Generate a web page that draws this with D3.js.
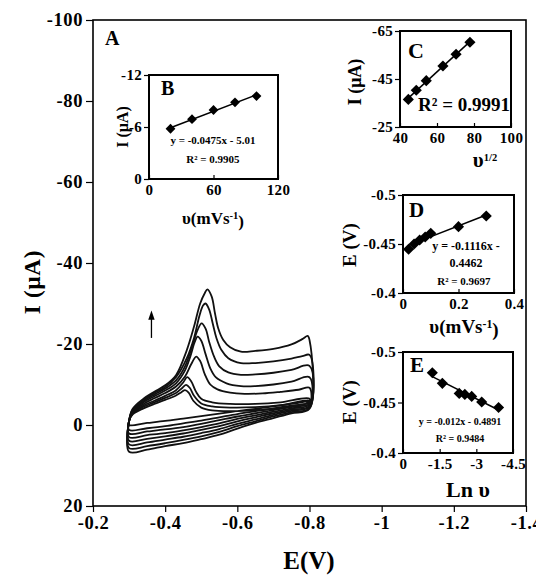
<!DOCTYPE html>
<html lang="en">
<head>
<meta charset="UTF-8">
<title>CV at different scan rates</title>
<script src="https://cdn.jsdelivr.net/npm/d3@7"></script>
<style>
  body { margin: 0; background: #fff; }
  svg text { font-family: "Liberation Serif", "Times New Roman", serif; font-weight: bold; fill: #000; }
  .tick17 text { font-size: 18.5px; letter-spacing: 0.6px; }
  .tick13 text { font-size: 15px; letter-spacing: 0.3px; }
  .tick line { stroke: #000; stroke-width: 1.2; }
</style>
</head>
<body>
<script>
// ---------- data ----------
// main panel A: cyclic voltammograms, forward (cathodic) scans as [E (V), I (uA)]
const forwardScans = [
  [[-0.30,-1.0],[-0.31,-4.0],[-0.34,-6.5],[-0.37,-8.2],[-0.40,-9.8],[-0.43,-12.3],[-0.46,-18.5],[-0.48,-24.3],[-0.497,-30.0],[-0.51,-32.6],[-0.517,-33.5],[-0.529,-31.7],[-0.538,-27.6],[-0.547,-23.9],[-0.561,-21.0],[-0.58,-19.2],[-0.61,-18.1],[-0.65,-18.3],[-0.70,-18.8],[-0.75,-19.9],[-0.78,-21.2],[-0.795,-22.0],[-0.80,-21.0]],
  [[-0.30,-1.0],[-0.31,-3.8],[-0.34,-6.2],[-0.37,-7.9],[-0.40,-9.4],[-0.43,-11.8],[-0.46,-16.5],[-0.48,-21.5],[-0.495,-27.0],[-0.505,-29.5],[-0.512,-30.0],[-0.522,-28.5],[-0.532,-25.0],[-0.542,-21.5],[-0.556,-18.5],[-0.575,-16.5],[-0.61,-15.3],[-0.65,-15.3],[-0.70,-15.7],[-0.75,-16.4],[-0.78,-17.0],[-0.80,-17.3]],
  [[-0.30,-1.0],[-0.31,-3.6],[-0.34,-5.9],[-0.37,-7.5],[-0.40,-9.0],[-0.43,-11.0],[-0.455,-14.5],[-0.475,-19.5],[-0.49,-23.5],[-0.501,-25.1],[-0.512,-23.8],[-0.522,-20.5],[-0.535,-17.0],[-0.55,-14.5],[-0.575,-13.0],[-0.61,-12.4],[-0.65,-12.5],[-0.70,-12.9],[-0.75,-13.6],[-0.80,-14.6]],
  [[-0.30,-1.0],[-0.31,-3.4],[-0.34,-5.6],[-0.37,-7.1],[-0.40,-8.5],[-0.43,-10.3],[-0.455,-13.5],[-0.47,-17.0],[-0.482,-20.5],[-0.49,-21.8],[-0.50,-20.8],[-0.512,-17.5],[-0.525,-14.0],[-0.54,-11.8],[-0.57,-10.3],[-0.61,-9.6],[-0.65,-9.6],[-0.70,-10.0],[-0.75,-10.7],[-0.80,-11.8]],
  [[-0.30,-1.0],[-0.31,-3.2],[-0.34,-5.2],[-0.37,-6.6],[-0.40,-7.9],[-0.43,-9.5],[-0.455,-12.0],[-0.472,-15.0],[-0.486,-16.9],[-0.497,-15.8],[-0.51,-12.5],[-0.525,-10.0],[-0.545,-8.8],[-0.58,-8.0],[-0.62,-7.7],[-0.67,-7.8],[-0.72,-8.2],[-0.77,-8.7],[-0.80,-9.2]],
  [[-0.30,-1.0],[-0.31,-3.0],[-0.34,-4.8],[-0.37,-6.0],[-0.40,-7.2],[-0.43,-8.6],[-0.45,-10.5],[-0.461,-11.8],[-0.472,-10.8],[-0.485,-8.3],[-0.50,-6.5],[-0.53,-5.6],[-0.58,-5.2],[-0.65,-5.2],[-0.72,-5.6],[-0.80,-6.5]],
  [[-0.30,-1.0],[-0.31,-2.8],[-0.34,-4.5],[-0.37,-5.6],[-0.40,-6.7],[-0.43,-7.9],[-0.448,-9.2],[-0.458,-9.9],[-0.468,-9.2],[-0.48,-7.2],[-0.50,-5.3],[-0.53,-4.6],[-0.58,-4.3],[-0.65,-4.4],[-0.72,-4.9],[-0.80,-6.0]],
  [[-0.30,-1.0],[-0.31,-2.6],[-0.34,-4.1],[-0.37,-5.2],[-0.40,-6.2],[-0.43,-7.3],[-0.445,-8.1],[-0.455,-8.6],[-0.465,-8.0],[-0.478,-6.0],[-0.50,-4.3],[-0.53,-3.6],[-0.58,-3.4],[-0.65,-3.6],[-0.72,-4.2],[-0.80,-5.6]]
];
// reverse (anodic) scans, sampled on a common potential grid
const returnE = [-0.80,-0.75,-0.70,-0.65,-0.60,-0.55,-0.50,-0.45,-0.40,-0.35,-0.30];
const returnCurrents = [
  [-4.0,-2.9,-1.7,-0.5, 0.9, 2.4, 3.5, 4.5, 5.2, 6.1, 6.6],
  [-4.2,-3.2,-2.1,-0.9, 0.3, 1.7, 2.8, 3.7, 4.5, 5.2, 5.7],
  [-4.5,-3.5,-2.5,-1.4,-0.3, 1.0, 2.0, 2.9, 3.6, 4.3, 4.8],
  [-4.7,-3.8,-2.9,-1.9,-0.9, 0.3, 1.2, 2.1, 2.8, 3.4, 3.9],
  [-5.0,-4.1,-3.3,-2.4,-1.5,-0.4, 0.5, 1.3, 2.0, 2.5, 3.0],
  [-5.2,-4.4,-3.7,-2.9,-2.1,-1.2,-0.3, 0.5, 1.1, 1.6, 2.1],
  [-5.5,-4.8,-4.1,-3.4,-2.7,-1.9,-1.1,-0.4, 0.3, 0.8, 1.2],
  [-5.8,-5.2,-4.6,-4.0,-3.4,-2.8,-2.2,-1.6,-1.0,-0.5, 0.0]
];
const mainXTicks = [-0.2,-0.4,-0.6,-0.8,-1,-1.2,-1.4];
const mainYTicks = [-100,-80,-60,-40,-20,0,20];

// inset B: Ip vs scan rate
const bRate = [20,40,60,80,100];
const bCurrent = [-5.8,-6.9,-7.96,-8.85,-9.57];
// inset C: Ip vs square root of scan rate
const cRootRate = [44.5,48.8,54.2,63.2,70.3,77.8];
const cCurrent = [-36.5,-40.3,-44.3,-50.4,-55.3,-60.3];
// inset D: Ep vs scan rate
const dRate = [0.02,0.04,0.06,0.08,0.1,0.2,0.3];
const dPotential = [-0.4446,-0.45,-0.4541,-0.4571,-0.4609,-0.4677,-0.4786];
// inset E: Ep vs Ln scan rate
const eLnRate = [-3.91,-3.22,-2.81,-2.53,-2.3,-1.61,-1.2];
const ePotential = [-0.445,-0.4505,-0.456,-0.458,-0.459,-0.469,-0.4795];

// ---------- drawing ----------
const W = 536, H = 575;
const svg = d3.select("body").append("svg").attr("width", W).attr("height", H);

const x = d3.scaleLinear().domain([-0.2, -1.4]).range([93, 526]);
const y = d3.scaleLinear().domain([20, -100]).range([506, 20]);

// x axis
svg.append("g").attr("class", "tick17")
  .attr("transform", `translate(0,${y(20)})`)
  .call(d3.axisBottom(x).tickValues(mainXTicks).tickFormat(d => d).tickSize(6).tickPadding(4).tickSizeOuter(0))
  .call(g => g.select(".domain").remove());
// y axis
svg.append("g").attr("class", "tick17")
  .attr("transform", `translate(${x(-0.2)},0)`)
  .call(d3.axisLeft(y).tickValues(mainYTicks).tickFormat(d => d).tickSize(7).tickPadding(3).tickSizeOuter(0))
  .call(g => g.select(".domain").remove());

svg.append("rect")
  .attr("x", x(-0.2)).attr("y", y(-100))
  .attr("width", x(-1.4) - x(-0.2)).attr("height", y(20) - y(-100))
  .attr("fill", "none").attr("stroke", "#000").attr("stroke-width", 1.6);

svg.append("text").attr("x", 309).attr("y", 569).attr("text-anchor", "middle")
  .style("font-size", "25px").text("E(V)");
svg.append("text").attr("transform", "translate(40,282) rotate(-90)").attr("text-anchor", "middle")
  .style("font-size", "23px").style("letter-spacing", "0.8px").text("I (μA)");
svg.append("text").attr("x", 105).attr("y", 45).style("font-size", "20px").text("A");

// voltammograms
const cvLine = d3.line().x(d => x(d[0])).y(d => y(d[1])).curve(d3.curveCatmullRomClosed.alpha(0.5));
forwardScans.forEach((fwd, i) => {
  const back = returnE.map((e, j) => [e, returnCurrents[i][j]]);
  svg.append("path").attr("d", cvLine(fwd.concat(back)))
    .attr("fill", "none").attr("stroke", "#111").attr("stroke-width", 1.8).attr("stroke-linejoin", "round");
});

// arrow showing increasing scan rate
const ax = x(-0.362);
svg.append("line").attr("x1", ax).attr("x2", ax).attr("y1", y(-21.5)).attr("y2", y(-26.5))
  .attr("stroke", "#000").attr("stroke-width", 1.3);
svg.append("path").attr("d", `M${ax - 3.2},${y(-26)} L${ax},${y(-28.3)} L${ax + 3.2},${y(-26)} Z`).attr("fill", "#000");

// insets
function fit(xs, ys) {
  const mx = d3.mean(xs), my = d3.mean(ys);
  const b = d3.sum(xs, (v, i) => (v - mx) * (ys[i] - my)) / d3.sum(xs, v => (v - mx) * (v - mx));
  return v => my + b * (v - mx);
}

function inset(o) {
  const g = svg.append("g");
  const sx = d3.scaleLinear().domain(o.xDomain).range([o.left, o.right]);
  const sy = d3.scaleLinear().domain(o.yDomain).range([o.bottom, o.top]);
  g.append("g").attr("class", "tick13").attr("transform", `translate(${o.left},0)`)
    .call(d3.axisLeft(sy).tickValues(o.yTicks).tickFormat(d => d).tickSize(5).tickPadding(2).tickSizeOuter(0))
    .call(a => a.select(".domain").remove());
  g.append("g").attr("class", "tick13").attr("transform", `translate(0,${o.bottom})`)
    .call(d3.axisBottom(sx).tickValues(o.xTicks).tickFormat(d => d).tickSizeInner(-4).tickPadding(5).tickSizeOuter(0))
    .call(a => a.select(".domain").remove());
  g.append("rect").attr("x", o.left).attr("y", o.top)
    .attr("width", o.right - o.left).attr("height", o.bottom - o.top)
    .attr("fill", "none").attr("stroke", "#000").attr("stroke-width", 2);
  const f = fit(o.xs, o.ys);
  const x0 = d3.min(o.xs), x1 = d3.max(o.xs);
  g.append("line").attr("x1", sx(x0)).attr("y1", sy(f(x0))).attr("x2", sx(x1)).attr("y2", sy(f(x1)))
    .attr("stroke", "#000").attr("stroke-width", 1.5);
  g.selectAll(".pt").data(o.xs).join("path")
    .attr("transform", (d, i) => `translate(${sx(d)},${sy(o.ys[i])}) rotate(45)`)
    .attr("d", d3.symbol(d3.symbolSquare, o.size || 46)());
  return g;
}

function rateTitle(sel, size) {
  sel.style("font-size", size + "px");
  sel.append("tspan").text("υ(mVs");
  sel.append("tspan").attr("dy", "-0.45em").style("font-size", "0.62em").text("-1");
  sel.append("tspan").attr("dy", "0.45em").text(")");
}

// B
const gB = inset({ left: 149, right: 278, top: 75, bottom: 179, xDomain: [0, 120], yDomain: [0, -12],
  xTicks: [0, 60, 120], yTicks: [-12, -6, 0], xs: bRate, ys: bCurrent, size: 48 });
gB.append("text").attr("x", 161).attr("y", 95).style("font-size", "20px").text("B");
gB.append("text").attr("x", 213).attr("y", 144).attr("text-anchor", "middle").style("font-size", "11px").text("y = -0.0475x - 5.01");
gB.append("text").attr("x", 213).attr("y", 163).attr("text-anchor", "middle").style("font-size", "11px").text("R² = 0.9905");
gB.append("text").attr("transform", "translate(128,127) rotate(-90)").attr("text-anchor", "middle").style("font-size", "16px").text("I (μA)");
gB.append("text").attr("x", 213).attr("y", 224).attr("text-anchor", "middle").call(rateTitle, 17);

// C
const gC = inset({ left: 400, right: 511, top: 31, bottom: 127, xDomain: [40, 100], yDomain: [-25, -65],
  xTicks: [40, 60, 80, 100], yTicks: [-65, -45, -25], xs: cRootRate, ys: cCurrent, size: 62 });
gC.append("text").attr("x", 408).attr("y", 58).style("font-size", "22px").text("C");
gC.append("text").attr("x", 510).attr("y", 111).attr("text-anchor", "end").style("font-size", "19px").text("R² = 0.9991");
gC.append("text").attr("transform", "translate(361,82) rotate(-90)").attr("text-anchor", "middle").style("font-size", "18px").text("I (μA)");
const cT = gC.append("text").attr("x", 485).attr("y", 167).attr("text-anchor", "middle").style("font-size", "21px");
cT.append("tspan").text("υ");
cT.append("tspan").attr("dy", "-0.55em").style("font-size", "0.5em").text("1/2");

// D
const gD = inset({ left: 403, right: 514, top: 195, bottom: 293, xDomain: [0, 0.4], yDomain: [-0.4, -0.5],
  xTicks: [0, 0.2, 0.4], yTicks: [-0.5, -0.45, -0.4], xs: dRate, ys: dPotential, size: 62 });
gD.append("text").attr("x", 409).attr("y", 217).style("font-size", "21px").text("D");
gD.append("text").attr("x", 466).attr("y", 250).attr("text-anchor", "middle").style("font-size", "12px").text("y = -0.1116x -");
gD.append("text").attr("x", 466).attr("y", 267).attr("text-anchor", "middle").style("font-size", "12px").text("0.4462");
gD.append("text").attr("x", 464).attr("y", 285).attr("text-anchor", "middle").style("font-size", "11px").text("R² = 0.9697");
gD.append("text").attr("transform", "translate(356,245) rotate(-90)").attr("text-anchor", "middle").style("font-size", "19px").text("E (V)");
gD.append("text").attr("x", 464).attr("y", 333).attr("text-anchor", "middle").call(rateTitle, 19);

// E
const gE = inset({ left: 403, right: 513, top: 352, bottom: 453, xDomain: [0, -4.5], yDomain: [-0.4, -0.5],
  xTicks: [0, -1.5, -3, -4.5], yTicks: [-0.5, -0.45, -0.4], xs: eLnRate, ys: ePotential, size: 62 });
gE.append("text").attr("x", 410).attr("y", 372).style("font-size", "21px").text("E");
gE.append("text").attr("x", 460).attr("y", 425).attr("text-anchor", "middle").style("font-size", "10px").text("y = -0.012x - 0.4891");
gE.append("text").attr("x", 460).attr("y", 442).attr("text-anchor", "middle").style("font-size", "10px").text("R² = 0.9484");
gE.append("text").attr("transform", "translate(356,402) rotate(-90)").attr("text-anchor", "middle").style("font-size", "19px").text("E (V)");
gE.append("text").attr("x", 468).attr("y", 497).attr("text-anchor", "middle").style("font-size", "22px").text("Ln υ");
</script>
</body>
</html>
